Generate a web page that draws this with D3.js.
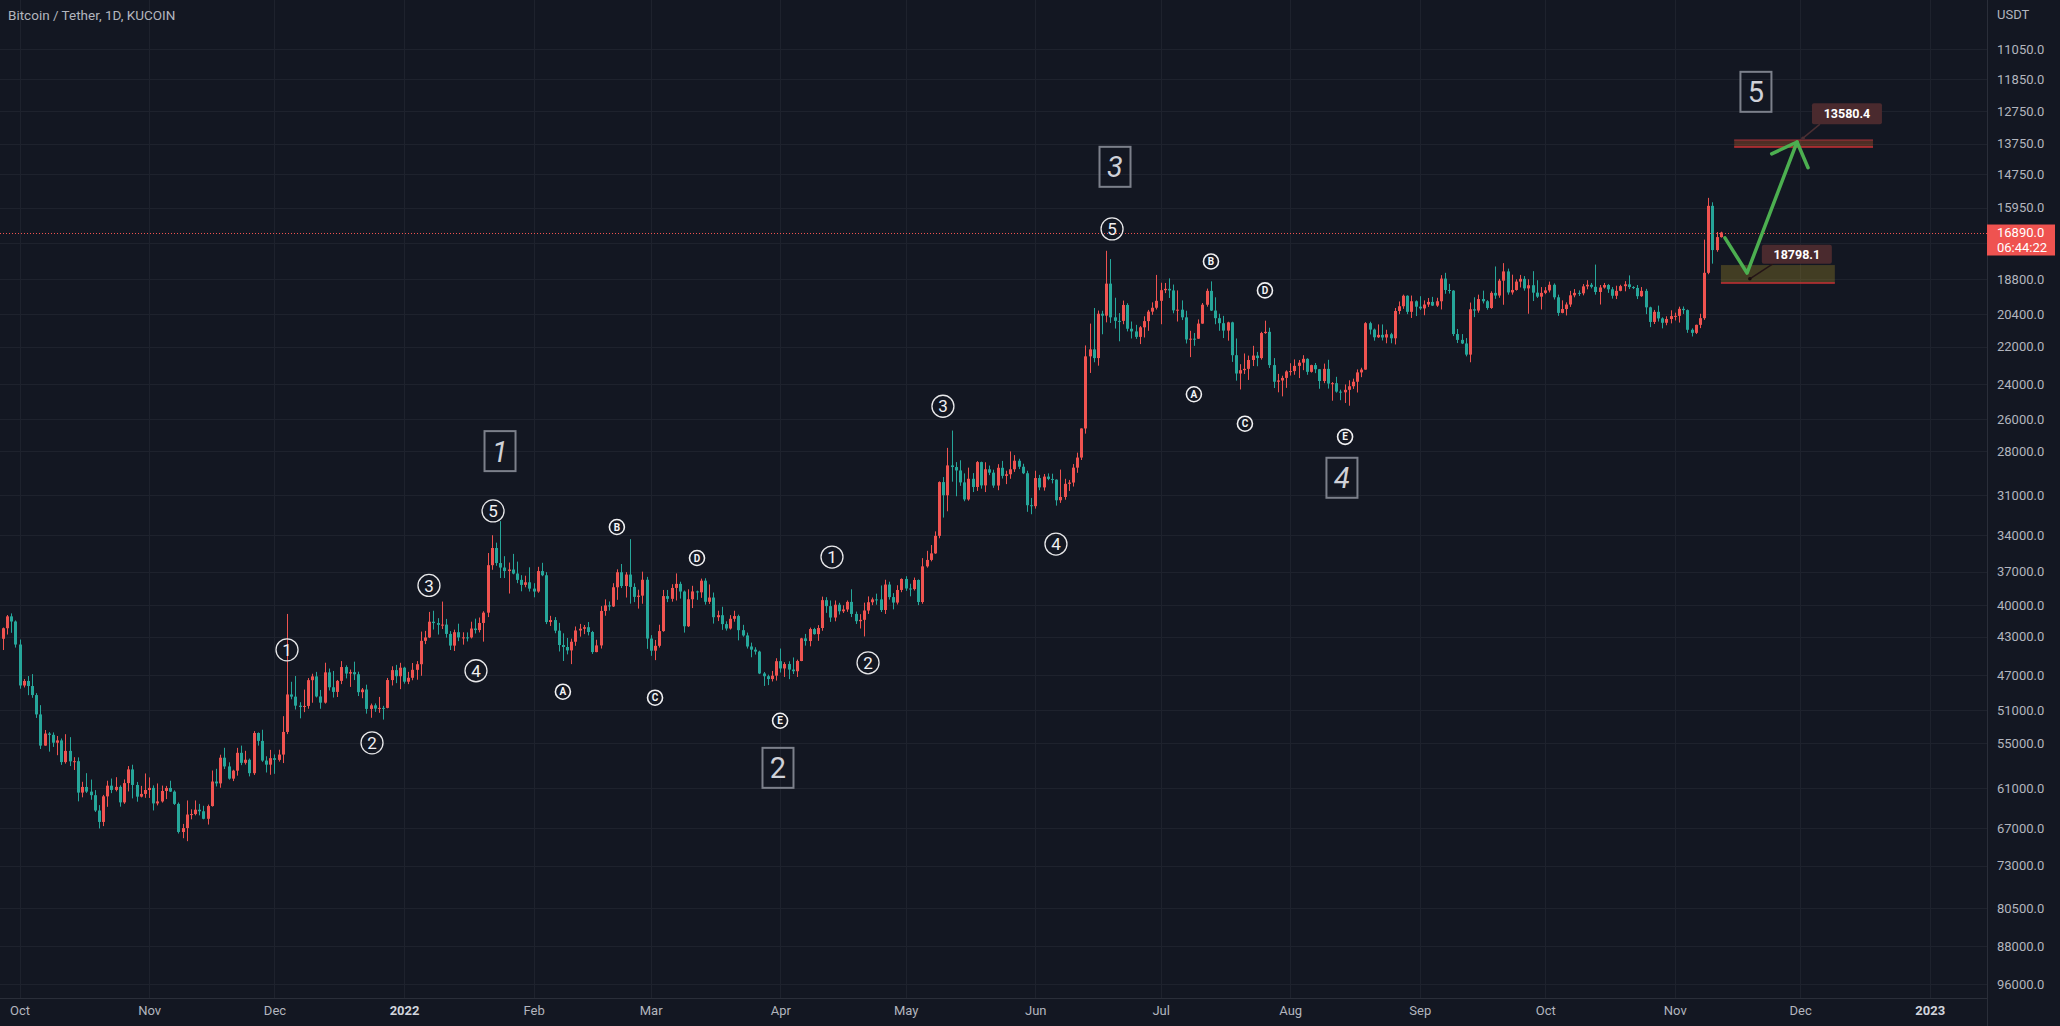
<!DOCTYPE html>
<html><head><meta charset="utf-8">
<script src="https://cdn.jsdelivr.net/npm/d3@7"></script>
<style>
html,body{margin:0;padding:0;background:#131722;overflow:hidden}
svg{display:block}
text{font-family:Roboto,"Noto Sans","DejaVu Sans",sans-serif}
</style></head><body>
<svg id="c" width="2060" height="1026"></svg>
<script>
// ---------------- DATA ----------------
const title = "Bitcoin / Tether, 1D, KUCOIN";
const currency = "USDT";
const firstCandleDate = "2021-09-27";   // daily candles, one per day
const opens = [
43210,42170,41030,41520,
43790,48140,47640,48200,49220,51470,55320,53800,53960,54950, 54660,57470,56000,57370,57350,61670,60870,61530,62040,64280, 66000,62210,60690,61290,60860,63080,60330,58450,60590,62250,61860,
61300,61000,63230,62940,61440,61010,61530,63300,67550,66940, 64880,64810,64160,64390,65520,63620,60110,60370,56890,58050, 59710,58620,56250,57570,57160,58960,53730,54720,57270,57810,
56950,57180,56480,53600,49150,49400,50440,50590,50470,47550, 47140,49380,50090,46700,48340,48860,47630,46130,46830,46680, 46910,48890,48590,50820,50400,50780,50700,50700,47540,46460,47120,
46200,47720,47290,46430,45830,43420,43080,41540,41670,41840, 41820,42730,43900,42560,43080,43070,43080,42200,42350,41660, 40680,36450,35030,36270,36650,36950,36820,37160,37710,38150,37920,
38480,38740,36950,37310,41570,41380,42410,43840,44040,44390, 43510,42390,42220,42070,42540,44560,43880,40520,40000,40100, 38360,37050,38250,37250,38330,39220,39110,37700,
43190,44420,43920,42450,39150,39400,38420,38060,38740,41980, 39440,38730,38810,37780,39670,39280,41110,40920,41770,42200, 41260,41000,42360,42880,43990,44310,44510,46820,47120,47430,47060,
45510,46280,45810,46400,46580,45490,43170,43440,42250,42750, 42150,39520,40070,41140,39940,40550,40380,39680,40800,41490, 41360,40480,39710,39450,39450,40430,38120,39240,39740,38600,
37630,38470,38520,37720,39690,36550,36010,35470,34060,30080, 31010,28940,29050,29280,30100,31310,29850,30420,28720,30310, 29200,29430,30320,29100,29650,29540,29200,28630,29030,29470,31730,
31800,29800,30450,29700,29860,29910,31370,31130,30200,30110, 29090,28420,26570,22490,22130,22580,20380,20470,19010,20550, 20720,20720,19970,21100,21230,21500,21030,20730,20280,20100,
19780,19300,19240,19310,20220,20190,20550,21630,21590,21590, 20850,19960,19330,20230,20590,20830,21190,20790,22430,23400, 23220,23150,22680,22450,22580,21310,21250,22950,23850,23780,23640,
23290,23270,22990,22820,22620,23310,22950,23170,23810,23150, 23950,23930,24400,24440,24300,24100,23850,23340,23190,20830, 21140,21520,21400,21530,21370,21570,20250,20030,19550,20290,19800,
20050,20130,19950,19830,20000,19800,18790,19290,19320,21360, 21650,21830,22400,20170,20230,19700,19800,20110,19420,19540, 18880,18480,19400,19290,18920,18800,19220,19080,19410,19590,
19420,19310,19060,19620,20340,20160,19950,19530,19420,19440, 19130,19060,19150,19380,19180,19070,19260,19550,19330,19120, 19040,19160,19200,19570,19330,20080,20770,20290,20600,20810,20630,
20490,20480,20150,20210,21150,21300,20910,20590,18540,15880,17590,17070
];
const highs = [
44350,42790,42620,44100,
48500,48360,49230,49530,51890,55750,55340,56100,55490,56560, 57840,57670,58000,58530,62930,62350,61720,62700,64490,67000, 66640,63730,61750,61500,63710,63290,61500,62500,62980,62360,62420,
62440,64270,63520,63110,62600,61580,63450,67790,68530,69000, 65600,65000,65000,65600,66400,63700,60800,60980,58400,59850, 60050,59300,57880,57800,59400,59200,55320,57440,58870,59180,
59050,57400,57600,53870,49700,50890,51940,51200,50800,50100, 49490,50800,50200,48700,49500,49440,47990,47360,48300,47540, 49330,49580,51380,51870,51170,51280,52090,50750,48140,47880,48550,
47940,47990,47560,47500,47070,43750,43140,42300,42790,42250, 43100,44350,44450,43450,43800,43480,43180,42690,42580,43500, 41100,36840,36500,37550,37550,38920,37230,38000,38720,38360,38740,
39260,38850,37390,41770,41950,42660,44500,45490,44800,45820, 43920,43000,42750,42880,44750,44580,44200,40970,40480,40150, 39490,38430,39280,39840,39700,40300,39850,44230,
44950,45400,44100,42520,39700,39660,39550,39380,42600,42050, 40250,39490,39310,39930,39870,41720,41480,42330,42400,42300, 41540,43370,43000,44200,45100,44820,46890,48190,48100,47700,47600,
46720,47200,47440,46880,47200,45510,43900,43970,42800,43420, 42420,40700,41560,41500,40860,40710,40600,41100,41760,42200, 42980,40800,39980,39940,40620,40800,39470,40370,39920,38800,
38680,39170,38650,39980,39850,36660,36130,35510,34250,32650, 32180,30050,31080,30340,31440,31400,30780,30700,30540,30780, 29600,30480,30650,29830,30220,29850,29380,29190,29530,32220,32400,
31980,30650,30680,29950,30170,31760,31560,31330,30700,30390, 29440,28580,26890,23370,22800,22980,21370,20790,20820,21090, 21720,20880,21230,21580,21600,21860,21530,21200,20430,20180,
20880,19430,19650,20360,20750,20680,21830,22530,21950,21600, 20860,20050,20250,20880,21200,21560,21690,22780,23790,24280, 23430,23750,23000,23010,22660,21350,23100,24200,24440,24670,24190,
23510,23470,23650,23220,23470,23350,23380,24240,23930,24230, 24920,24460,24890,25050,25210,24250,24450,23600,23200,21380, 21690,21550,21680,21820,21820,21880,20400,20150,20400,20580,20490,
20200,20450,20060,20020,20060,20180,19460,19450,21460,21810, 21860,22490,22800,20540,20330,19900,20190,20150,19690,19640, 19960,19500,19500,19320,19180,19320,20380,19790,19650,20180,
19480,19400,19720,20480,20360,20460,20060,19620,19560,19530, 19260,19220,19500,19950,19230,19420,19680,19700,19350,19350, 19250,19250,19700,19600,20400,21020,20870,20750,21080,20930,20840,
20700,20800,20390,21300,21480,21360,21070,20670,18600,18150,17660,17090
];
const lows = [
42100,40900,40750,41420,
43290,47430,47100,46890,49000,50380,53360,53620,53660,54100, 54420,53880,54250,56820,56850,60150,58960,59840,61320,63480, 62000,60000,59700,59510,60650,59820,58000,57820,60170,60720,59000,
59540,60650,60380,60680,60720,60000,61350,63100,66300,62800, 64100,62800,63300,63580,63400,58600,58370,56500,55600,57500, 58500,55610,55320,55990,57000,53500,53660,53330,56700,55870,
56460,55850,51680,40800,47730,47100,50040,48600,47320,46850, 46650,48640,45670,46290,46550,47530,45500,45950,46400,45560, 46630,48420,48050,50200,50180,49430,50460,47310,46050,45900,45680,
46100,46650,45700,45500,42500,42430,40610,40500,41200,39650, 41270,42450,42310,41730,42570,42580,41540,41250,41140,40550, 35440,34010,34600,32920,35700,36230,35510,36150,37300,37350,36630,
38000,36590,36250,37040,40980,41100,41650,42670,43130,43200, 42000,41750,41860,41570,42430,43310,40070,39450,39640,38000, 36800,36350,37040,34320,38010,38580,37000,37450,
42850,43330,41830,38600,38600,38090,37150,37870,38650,38540, 38230,38660,37600,37570,38110,38830,40500,40130,41500,40910, 40500,40870,41840,42600,43600,44070,44420,46660,46950,46550,45200,
44200,45620,45520,45120,45350,43120,42730,42110,42130,41870, 39200,39250,39550,39550,39760,39990,39550,38540,40580,40820, 39750,39180,39280,38930,38200,37700,37870,38880,38180,37580,
37390,38050,37510,37670,35860,35260,34790,33710,30030,29730, 27790,26700,28720,28600,29480,29090,29460,28650,28690,28730, 28950,29230,28860,28640,29300,28020,28260,28500,28830,29300,31200,
29300,29580,29520,29480,29500,29890,29220,29850,29930,28850, 28100,26560,21930,20850,20110,20230,20240,17620,17960,19640, 20350,19770,19890,20750,20910,20970,20500,20200,19850,18630,
18970,18980,18780,19050,19310,19760,20240,21200,21310,20650, 19880,19230,18910,19620,20380,20480,20760,20760,21580,22900, 22340,22450,21950,22260,21250,20710,21050,22580,23420,23520,23230,
22850,22650,22680,22430,22590,22930,22840,23160,22870,22670, 23870,23580,24290,24000,23770,23680,23180,23090,20780,20760, 21090,20890,20890,21150,21300,20110,19810,19500,19530,19540,19760,
19570,19760,19650,19600,19640,18640,18540,19020,19300,21110, 21360,21560,19860,19620,19500,19320,19750,19350,18270,18800, 18130,18360,18620,18820,18630,18680,18820,18470,18860,19160,
19160,18920,19000,19500,19760,19850,19330,19250,19310,19030, 18860,18980,18190,19070,18980,19030,19160,19100,19060,18900, 18650,19120,19070,19160,19240,20050,20200,20000,20550,20500,20220,
20330,20050,20040,20180,21080,20900,20380,17170,15590,15750,16870,16860
];
const closes = [
42170,41030,41520,43790,
48140,47640,48200,49220,51470,55320,53800,53960,54950,54660, 57470,56000,57370,57350,61670,60870,61530,62040,64280,66000, 62210,60690,61290,60860,63080,60330,58450,60590,62250,61860,61300,
61000,63230,62940,61440,61010,61530,63300,67550,66940,64880, 64810,64160,64390,65520,63620,60110,60370,56890,58050,59710, 58620,56250,57570,57160,58960,53730,54720,57270,57810,56950,
57180,56480,53600,49150,49400,50440,50590,50470,47550,47140, 49380,50090,46700,48340,48860,47630,46130,46830,46680,46910, 48890,48590,50820,50400,50780,50700,50700,47540,46460,47120,46200,
47720,47290,46430,45830,43420,43080,41540,41670,41840,41820, 42730,43900,42560,43080,43070,43080,42200,42350,41660,40680, 36450,35030,36270,36650,36950,36820,37160,37710,38150,37920,38480,
38740,36950,37310,41570,41380,42410,43840,44040,44390,43510, 42390,42220,42070,42540,44560,43880,40520,40000,40100,38360, 37050,38250,37250,38330,39220,39110,37700,43190,
44420,43920,42450,39150,39400,38420,38060,38740,41980,39440, 38730,38810,37780,39670,39280,41110,40920,41770,42200,41260, 41000,42360,42880,43990,44310,44510,46820,47120,47430,47060,45510,
46280,45810,46400,46580,45490,43170,43440,42250,42750,42150, 39520,40070,41140,39940,40550,40380,39680,40800,41490,41360, 40480,39710,39450,39450,40430,38120,39240,39740,38600,37630,
38470,38520,37720,39690,36550,36010,35470,34060,30080,31010, 28940,29050,29280,30100,31310,29850,30420,28720,30310,29200, 29430,30320,29100,29650,29540,29200,28630,29030,29470,31730,31800,
29800,30450,29700,29860,29910,31370,31130,30200,30110,29090, 28420,26570,22490,22130,22580,20380,20470,19010,20550,20720, 20720,19970,21100,21230,21500,21030,20730,20280,20100,19780,
19300,19240,19310,20220,20190,20550,21630,21590,21590,20850, 19960,19330,20230,20590,20830,21190,20790,22430,23400,23220, 23150,22680,22450,22580,21310,21250,22950,23850,23780,23640,23290,
23270,22990,22820,22620,23310,22950,23170,23810,23150,23950, 23930,24400,24440,24300,24100,23850,23340,23190,20830,21140, 21520,21400,21530,21370,21570,20250,20030,19550,20290,19800,20050,
20130,19950,19830,20000,19800,18790,19290,19320,21360,21650, 21830,22400,20170,20230,19700,19800,20110,19420,19540,18880, 18480,19400,19290,18920,18800,19220,19080,19410,19590,19420,
19310,19060,19620,20340,20160,19950,19530,19420,19440,19130, 19060,19150,19380,19180,19070,19260,19550,19330,19120,19040, 19160,19200,19570,19330,20080,20770,20290,20600,20810,20630,20490,
20480,20150,20210,21150,21300,20910,20590,18540,15880,17590,17070,16890
];
const priceTicks = [11050,11850,12750,13750,14750,15950,18800,20400,22000,24000,26000,28000,31000,34000,37000,40000,43000,47000,51000,55000,61000,67000,73000,80500,88000,96000];
const gridOnlyTicks = [17300];
const lastPrice = 16890;
const countdown = "06:44:22";
const monthLabels = ["Oct","Nov","Dec","2022","Feb","Mar","Apr","May","Jun","Jul","Aug","Sep","Oct","Nov","Dec","2023"];
const monthDates = ["2021-10-01","2021-11-01","2021-12-01","2022-01-01","2022-02-01","2022-03-01","2022-04-01","2022-05-01","2022-06-01","2022-07-01","2022-08-01","2022-09-01","2022-10-01","2022-11-01","2022-12-01","2023-01-01"];

// Elliott wave annotations (anchored at date / price)
const waveDigits = [
  {t:"1", d:"2021-12-04T00:00Z", p:44330},
  {t:"2", d:"2021-12-24T08:00Z", p:54970},
  {t:"3", d:"2022-01-06T23:00Z", p:38200},
  {t:"4", d:"2022-01-18T05:00Z", p:46530},
  {t:"5", d:"2022-01-22T07:00Z", p:32150},
  {t:"1", d:"2022-04-13T09:00Z", p:35770},
  {t:"2", d:"2022-04-22T00:00Z", p:45680},
  {t:"3", d:"2022-05-09T22:00Z", p:25240},
  {t:"4", d:"2022-06-05T23:00Z", p:34710},
  {t:"5", d:"2022-06-19T09:00Z", p:16750}
];
const waveLetters = [
  {t:"A", d:"2022-02-08T00:00Z", p:48840},
  {t:"B", d:"2022-02-20T22:00Z", p:33370},
  {t:"C", d:"2022-03-02T01:00Z", p:49520},
  {t:"D", d:"2022-03-12T02:00Z", p:35850},
  {t:"E", d:"2022-03-31T23:00Z", p:52230},
  {t:"A", d:"2022-07-08T23:00Z", p:24550},
  {t:"B", d:"2022-07-13T01:00Z", p:18060},
  {t:"C", d:"2022-07-21T04:00Z", p:26280},
  {t:"D", d:"2022-07-25T23:00Z", p:19310},
  {t:"E", d:"2022-08-14T03:00Z", p:27090}
];
const waveBoxes = [
  {t:"1", d:"2022-01-23T23:00Z", p:28000},
  {t:"2", d:"2022-03-31T11:00Z", p:58240},
  {t:"3", d:"2022-06-20T02:00Z", p:14510},
  {t:"4", d:"2022-08-13T09:00Z", p:29780},
  {t:"5", d:"2022-11-20T10:00Z", p:12200}
];
const zones = [
  {d1:"2022-11-15T05:00Z", d2:"2022-12-18T10:00Z", p1:13638, p2:13860, kind:"upper"},
  {d1:"2022-11-12T01:00Z", d2:"2022-12-09T07:00Z", p1:18210, p2:18985, kind:"lower"}
];
const targetLabels = [
  {value:13580.4, d:"2022-12-01T16:00Z"},
  {value:18798.1, d:"2022-11-18T23:00Z"}
];
const arrowDates  = ["2022-11-13T00:00Z","2022-11-18T07:00Z","2022-11-30T06:00Z"];
const arrowPrices = [17100, 18550, 13700];

// ---------------- CHART ----------------
const W=2060, H=1026, plotW=1987, plotH=998;
const DAY=864e5;
const anchor = Date.UTC(2021,9,1), anchorX = 19.5, pxPerDay = 4.18;
const x = d3.scaleUtc()
  .domain([new Date(anchor - anchorX/pxPerDay*DAY), new Date(anchor + (plotW-anchorX)/pxPerDay*DAY)])
  .range([0, plotW]);
const y = d3.scaleLog().domain([9866, 99160]).range([0, plotH]);   // inverted price scale

const UP="#26a69a", DOWN="#ef5350", GRID="#1e222d", TXT="#b2b5be";
const AXFONT="13px";
const svg = d3.select("#c");
svg.append("rect").attr("width",W).attr("height",H).attr("fill","#131722");
svg.append("defs").append("clipPath").attr("id","clip").append("rect").attr("width",plotW).attr("height",plotH);

// grid
const grid = svg.append("g");
const months = monthDates.map(s=>new Date(s+"T00:00:00Z"));
grid.selectAll("line.v").data(months).join("line")
  .attr("x1",d=>Math.round(x(d))+0.5).attr("x2",d=>Math.round(x(d))+0.5)
  .attr("y1",0).attr("y2",plotH).attr("stroke",GRID).attr("stroke-width",1);
grid.selectAll("line.h").data(priceTicks.concat(gridOnlyTicks)).join("line")
  .attr("x1",0).attr("x2",plotW)
  .attr("y1",d=>Math.round(y(d))+0.5).attr("y2",d=>Math.round(y(d))+0.5)
  .attr("stroke",GRID).attr("stroke-width",1);

// candles
const start = Date.parse(firstCandleDate+"T00:00:00Z");
const candles = closes.map((c,i)=>({date:new Date(start+i*DAY), o:opens[i], h:highs[i], l:lows[i], c}));
const cg = svg.append("g").attr("clip-path","url(#clip)");
cg.selectAll("line.w").data(candles).join("line")
  .attr("x1",d=>Math.round(x(d.date))+0.5).attr("x2",d=>Math.round(x(d.date))+0.5)
  .attr("y1",d=>y(d.h)).attr("y2",d=>y(d.l))
  .attr("stroke",d=>d.c>=d.o?UP:DOWN).attr("stroke-width",1);
cg.selectAll("rect.b").data(candles).join("rect")
  .attr("x",d=>Math.round(x(d.date))-1).attr("width",3)
  .attr("y",d=>Math.min(y(d.o),y(d.c)))
  .attr("height",d=>Math.max(1,Math.abs(y(d.o)-y(d.c))))
  .attr("fill",d=>d.c>=d.o?UP:DOWN);

// current price dotted line
svg.append("line").attr("x1",0).attr("x2",plotW)
  .attr("y1",Math.round(y(lastPrice))+0.5).attr("y2",Math.round(y(lastPrice))+0.5)
  .attr("stroke",DOWN).attr("stroke-width",1).attr("stroke-dasharray","1,2");

// zones
const ann = svg.append("g").attr("clip-path","url(#clip)");
zones.forEach(z=>{
  const x1=x(new Date(z.d1)), x2=x(new Date(z.d2)), y1=y(z.p1), y2=y(z.p2);
  ann.append("rect").attr("x",x1).attr("y",y1).attr("width",x2-x1).attr("height",y2-y1)
    .attr("fill", z.kind==="upper" ? "rgba(205,95,45,0.32)" : "rgba(175,150,40,0.30)");
  ann.append("line").attr("x1",x1).attr("x2",x2).attr("y1",y2).attr("y2",y2).attr("stroke","#c62f35").attr("stroke-width",1.5);
  if(z.kind==="upper") ann.append("line").attr("x1",x1).attr("x2",x2).attr("y1",y1).attr("y2",y1).attr("stroke","#a8323a").attr("stroke-width",1);
});

// target labels
targetLabels.forEach((t,i)=>{
  const tx=x(new Date(t.d)), ty=y(t.value);
  const bx=tx+(i===0?9:12), bw=70, bh=(i===0?21:19), by=ty-(i===0?35:34);
  ann.append("line").attr("x1",tx).attr("y1",ty).attr("x2",bx+(i===0?8:11)).attr("y2",by+bh)
    .attr("stroke",i===0?"#4a2f33":"#241417").attr("stroke-width",1.5);
  ann.append("circle").attr("cx",tx).attr("cy",ty).attr("r",1.8).attr("fill",i===0?"#4a2f33":"#1a0e10");
  ann.append("rect").attr("x",bx).attr("y",by).attr("width",bw).attr("height",bh).attr("rx",2)
    .attr("fill","#4a2a2e");
  ann.append("text").attr("x",bx+bw/2).attr("y",by+bh/2).attr("dy","0.35em").attr("text-anchor","middle")
    .attr("fill","#ffffff").attr("font-weight","bold").style("font-size","12.5px").text(t.value.toFixed(1));
});

// green arrow
const pts = arrowDates.map((d,i)=>[x(new Date(d)), y(arrowPrices[i])]);
ann.append("path").attr("d",d3.line()(pts)).attr("fill","none").attr("stroke","#4caf50")
  .attr("stroke-width",3.5).attr("stroke-linejoin","round").attr("stroke-linecap","round");
{
  const [a,b]=[pts[1],pts[2]];
  const ang=Math.atan2(a[1]-b[1], a[0]-b[0]), L=28, spread=44*Math.PI/180;
  const w1=[b[0]+L*Math.cos(ang+spread), b[1]+L*Math.sin(ang+spread)];
  const w2=[b[0]+L*Math.cos(ang-spread), b[1]+L*Math.sin(ang-spread)];
  ann.append("path").attr("d",d3.line()([w1,b,w2])).attr("fill","none").attr("stroke","#4caf50")
    .attr("stroke-width",3.5).attr("stroke-linejoin","round").attr("stroke-linecap","round");
}

// wave digits (circled)
const wg = svg.append("g");
waveDigits.forEach(w=>{
  const cx=x(new Date(w.d)), cy=y(w.p);
  wg.append("circle").attr("cx",cx).attr("cy",cy).attr("r",11).attr("fill","none").attr("stroke","#e8e8ea").attr("stroke-width",1.3);
  wg.append("text").attr("x",cx).attr("y",cy).attr("dy","0.36em").attr("text-anchor","middle")
    .attr("fill","#f0f0f2").style("font-size","17px").text(w.t);
});
waveLetters.forEach(w=>{
  const cx=x(new Date(w.d)), cy=y(w.p);
  wg.append("circle").attr("cx",cx).attr("cy",cy).attr("r",7.5).attr("fill","none").attr("stroke","#f0f0f2").attr("stroke-width",1.6);
  wg.append("text").attr("x",cx).attr("y",cy).attr("dy","0.36em").attr("text-anchor","middle")
    .attr("fill","#f5f5f7").attr("font-weight","bold").style("font-size","10px").text(w.t);
});
const italicBoxes = new Set(["1","3","4"]);
waveBoxes.forEach(w=>{
  const cx=x(new Date(w.d)), cy=y(w.p);
  wg.append("rect").attr("x",cx-15.5).attr("y",cy-20).attr("width",31).attr("height",40)
    .attr("fill","none").attr("stroke","#7c808b").attr("stroke-width",2);
  wg.append("text").attr("x",cx).attr("y",cy).attr("dy","0.36em").attr("text-anchor","middle")
    .attr("fill","#cfd1d8").style("font-size","29px")
    .style("font-style", italicBoxes.has(w.t)?"italic":"normal").text(w.t);
});

// axes borders
svg.append("line").attr("x1",plotW+0.5).attr("x2",plotW+0.5).attr("y1",0).attr("y2",H).attr("stroke","#2a2e39");
svg.append("line").attr("x1",0).attr("x2",plotW).attr("y1",plotH+0.5).attr("y2",plotH+0.5).attr("stroke","#2a2e39");

// price axis
const yAxis = d3.axisRight(y).tickValues(priceTicks).tickFormat(d=>d.toFixed(1)).tickSize(0).tickPadding(10);
const ya = svg.append("g").attr("transform",`translate(${plotW},0)`).call(yAxis);
ya.select(".domain").remove();
ya.selectAll("text").attr("fill",TXT).style("font-size",AXFONT).style("font-family","Roboto, 'Noto Sans', sans-serif");

svg.append("text").attr("x",plotW+10).attr("y",14).attr("dy","0.35em").attr("fill",TXT).style("font-size",AXFONT).text(currency);

// time axis
const xAxis = d3.axisBottom(x).tickValues(months).tickSize(0).tickPadding(8)
  .tickFormat((d,i)=>monthLabels[i]);
const xa = svg.append("g").attr("transform",`translate(0,${plotH})`).call(xAxis);
xa.select(".domain").remove();
xa.selectAll("text").attr("fill",(d,i)=>monthLabels[i].length===4?"#d1d4dc":TXT)
  .attr("font-weight",(d,i)=>monthLabels[i].length===4?"bold":"normal")
  .style("font-size",AXFONT).style("font-family","Roboto, 'Noto Sans', sans-serif");

// last price label
const ly = y(lastPrice);
svg.append("rect").attr("x",plotW).attr("y",ly-8).attr("width",68).attr("height",31).attr("fill","#ef5350");
svg.append("text").attr("x",plotW+10).attr("y",ly).attr("dy","0.35em").attr("fill","#ffffff").style("font-size",AXFONT).text(lastPrice.toFixed(1));
svg.append("text").attr("x",plotW+10).attr("y",ly+15).attr("dy","0.35em").attr("fill","#ffffff").style("font-size",AXFONT).text(countdown);

// title
svg.append("text").attr("x",8).attr("y",15).attr("dy","0.35em").attr("fill",TXT).style("font-size","13.5px").text(title);

if (!(opens.length===closes.length && highs.length===closes.length && lows.length===closes.length))
  console.error("length mismatch", opens.length, highs.length, lows.length, closes.length);
</script>
</body></html>
